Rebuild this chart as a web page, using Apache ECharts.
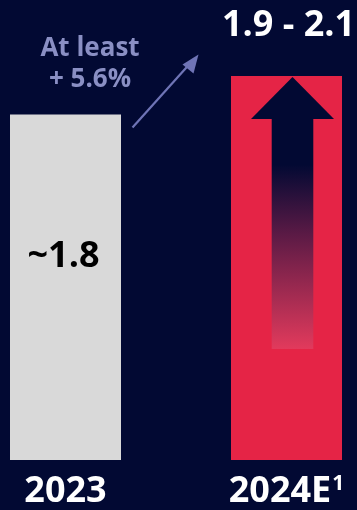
<!DOCTYPE html>
<html><head><meta charset="utf-8">
<style>html,body{margin:0;padding:0;background:#020933;}#c{width:357px;height:510px;}</style>
<script src="https://cdn.jsdelivr.net/npm/echarts@6/dist/echarts.min.js"></script>
</head><body><div id="c"></div>
<script>
const categories = ['2023', '2024E'];
const values = [1.8, 2.0];
const valueLabels = ['~1.8', '1.9 - 2.1'];
const growthLines = ['At least', '+ 5.6%'];
const barColors = ['#d9d9d9', '#e52446'];

const BG = '#020933';
const FONT = 'Open Sans';
const chart = echarts.init(document.getElementById('c'), null, {renderer: 'canvas'});

chart.setOption({
  backgroundColor: BG,
  animation: false,
  grid: {left: 65.5, right: 70.5, top: 76, bottom: 46},
  xAxis: {
    type: 'category', data: categories, boundaryGap: false,
    axisLine: {show: false}, axisTick: {show: false},
    axisLabel: {
      margin: 14,
      formatter: v => v === '2024E' ? '{b|2024E}{s|1}' : '{b|' + v + '}',
      rich: {
        b: {fontFamily: FONT, fontWeight: 'bold', fontSize: 36, color: '#fff', verticalAlign: 'top', lineHeight: 40},
        s: {fontFamily: FONT, fontWeight: 'bold', fontSize: 21, color: '#fff', verticalAlign: 'top', lineHeight: 40, padding: [0,0,0,1]}
      }
    }
  },
  yAxis: {type: 'value', min: 0, max: 2.0, show: false, splitLine: {show: false}},
  series: [{
    type: 'bar', barWidth: 111, clip: false,
    data: values.map((v, i) => ({
      value: v,
      itemStyle: {color: barColors[i]},
      label: i === 0 ? {
        show: true, position: 'inside', offset: [-2, -30],
        formatter: valueLabels[i], color: '#000', fontFamily: FONT, fontWeight: 'bold', fontSize: 36
      } : {
        show: true, position: 'top', distance: 32, offset: [2, 0],
        formatter: valueLabels[i], color: '#fff', fontFamily: FONT, fontWeight: 'bold', fontSize: 36
      }
    }))
  }]
});

// decorations placed relative to bars via the coordinate system
const topR = chart.convertToPixel({gridIndex: 0}, [categories[1], values[1]]);
const topL = chart.convertToPixel({gridIndex: 0}, [categories[0], values[0]]);
const cx = topR[0] + 6;
const ty = topR[1] + 1;
const headH = 42, headHalf = 41.5, shaftHalf = 20.8;
const shaftBottom = ty + 272;
chart.setOption({
  graphic: [
    {type: 'polygon', silent: true, z: 10,
     shape: {points: [[cx, ty], [cx + headHalf, ty + headH], [cx - headHalf, ty + headH]]},
     style: {fill: BG}},
    {type: 'rect', silent: true, z: 10,
     shape: {x: cx - shaftHalf, y: ty + headH - 0.5, width: shaftHalf * 2, height: shaftBottom - ty - headH + 0.5},
     style: {fill: new echarts.graphic.LinearGradient(0, 0, 0, 1, [
       {offset: 0, color: BG}, {offset: 0.2, color: BG},
       {offset: 0.5, color: '#5a1a45'},
       {offset: 1, color: '#e23a5c'}
     ])}},
    {type: 'line', silent: true, z: 10,
     shape: {x1: topL[0] + 67, y1: topL[1] + 13, x2: topL[0] + 129, y2: topL[1] - 56},
     style: {stroke: '#6f74b6', lineWidth: 2.2}},
    {type: 'polygon', silent: true, z: 10,
     shape: {points: [[topL[0] + 133, topL[1] - 60], [topL[0] + 128, topL[1] - 41], [topL[0] + 117, topL[1] - 50]]},
     style: {fill: '#6f74b6'}},
    {type: 'text', silent: true, z: 10, position: [90, 33],
     style: {text: growthLines.join('\n'), x: 0, y: 0, fill: '#8a8fc4', font: 'bold 26px "Open Sans"', align: 'center', lineHeight: 31}}
  ]
});
</script></body></html>
